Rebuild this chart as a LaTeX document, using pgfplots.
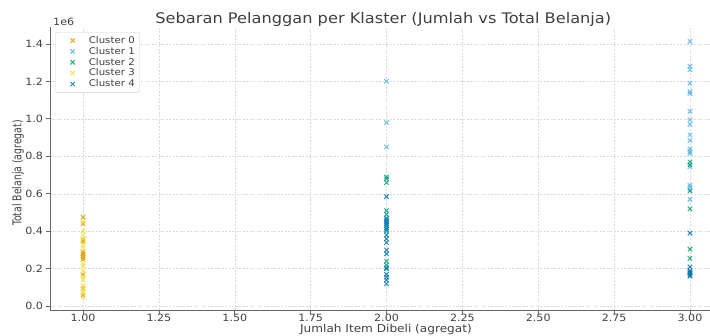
\documentclass[border=0pt]{standalone}
\usepackage{pgfplots}
\pgfplotsset{compat=1.18}
\usepackage{fontspec}
\setmainfont{DejaVu Sans}
\definecolor{c0}{HTML}{E69F00}
\definecolor{c1}{HTML}{56B4E9}
\definecolor{c2}{HTML}{009E73}
\definecolor{c3}{HTML}{F0E442}
\definecolor{c4}{HTML}{0072B2}
\definecolor{txt}{HTML}{404040}
\newcommand{\hs}[1]{\scalebox{1.11}[1]{#1}}
\pgfplotsset{lx/.style={/pgfplots/legend image code/.code={\draw[##1] plot[only marks] coordinates {(0.48cm,0cm)}; \path (0cm,0cm) (0.96cm,0cm);}}}
\begin{document}
\begin{tikzpicture}
\path[use as bounding box] (-50pt,-25pt) rectangle (660pt,310pt);
\begin{axis}[
  scale only axis, width=660pt, height=283pt,
  xmin=0.891, xmax=3.066, ymin=-0.02, ymax=1.49,
  axis lines*=left,
  axis line style={draw=black!60, line width=0.9pt},
  xtick={1,1.25,1.5,1.75,2,2.25,2.5,2.75,3},
  ytick={0,0.2,0.4,0.6,0.8,1.0,1.2,1.4},
  grid=major,
  major grid style={dash pattern=on 2pt off 1.5pt, black!14, line width=0.6pt},
  tick align=outside, major tick length=3.5pt,
  tick style={black!60, line width=0.7pt},
  /pgf/number format/assume math mode=true,
  xticklabel={\hs{\pgfmathprintnumber[fixed,fixed zerofill,precision=2]{\tick}}},
  yticklabel={\hs{\pgfmathprintnumber[fixed,fixed zerofill,precision=1]{\tick}}},
  ticklabel style={font=\fontsize{10}{12}\selectfont, text=txt},
  xticklabel style={yshift=2.5pt},
  legend style={at={(rel axis cs:0.008,0.982)}, anchor=north west,
    draw=black!18, rounded corners=2pt, font=\fontsize{9.2}{10}\selectfont,
    text=txt, row sep=-1.6pt, inner xsep=3pt, inner ysep=2pt},
  legend cell align=left,
  every axis plot/.append style={only marks, mark=x, mark size=3.1pt, line width=1pt, opacity=0.85},
  clip=false,
]
\addplot[c0, lx] coordinates {(1,0.475)(1,0.44)(1,0.355)(1,0.345)(1,0.29)(1,0.28)(1,0.27)(1,0.26)(1,0.25)(1,0.17)(1,0.095)(1,0.06)};
\addlegendentry{\hs{Cluster 0}}
\addplot[c1, lx] coordinates {(2,1.2)(2,0.98)(2,0.85)
 (3,1.413)(3,1.28)(3,1.262)(3,1.19)(3,1.145)(3,1.135)(3,1.04)(3,0.995)(3,0.97)(3,0.915)(3,0.885)(3,0.84)(3,0.825)(3,0.815)(3,0.745)(3,0.645)(3,0.635)(3,0.62)(3,0.57)(3,0.18)};
\addlegendentry{\hs{Cluster 1}}
\addplot[c2, lx] coordinates {(2,0.69)(2,0.68)(2,0.66)(2,0.51)(2,0.49)(2,0.42)(2,0.40)(2,0.24)(2,0.22)(2,0.20)
 (3,0.77)(3,0.755)(3,0.615)(3,0.52)(3,0.305)(3,0.255)(3,0.175)};
\addlegendentry{\hs{Cluster 2}}
\addplot[c3, lx] coordinates {(1,0.45)(1,0.40)(1,0.38)(1,0.36)(1,0.33)(1,0.31)(1,0.23)(1,0.215)(1,0.19)(1,0.16)(1,0.14)(1,0.11)(1,0.09)(1,0.075)(1,0.05)};
\addlegendentry{\hs{Cluster 3}}
\addplot[c4, lx] coordinates {(2,0.585)(2,0.47)(2,0.46)(2,0.45)(2,0.44)(2,0.43)(2,0.41)(2,0.38)(2,0.36)(2,0.34)(2,0.30)(2,0.28)(2,0.205)(2,0.17)(2,0.155)(2,0.14)(2,0.12)
 (3,0.39)(3,0.21)(3,0.19)(3,0.18)(3,0.165)(3,0.16)};
\addlegendentry{\hs{Cluster 4}}
\node[anchor=base, text=txt, font=\fontsize{14.6}{16}\selectfont] at ([yshift=3.5pt]rel axis cs:0.505,1) {\hs{Sebaran Pelanggan per Klaster (Jumlah vs Total Belanja)}};
\node[anchor=base west, text=txt, font=\fontsize{10}{11}\selectfont, inner sep=0pt] at ([xshift=3pt,yshift=1.5pt]rel axis cs:0,1) {\hs{1e6}};
\node[anchor=base, text=txt, font=\fontsize{10.9}{12}\selectfont, inner sep=0pt] at ([yshift=-22.5pt]rel axis cs:0.509,0) {\hs{Jumlah Item Dibeli (agregat)}};
\node[anchor=center, rotate=90, text=txt, font=\fontsize{9.3}{11}\selectfont, inner sep=0pt] at ([xshift=-32pt]rel axis cs:0,0.484) {\scalebox{1}[1.3]{Total Belanja (agregat)}};
\end{axis}
\end{tikzpicture}
\end{document}
